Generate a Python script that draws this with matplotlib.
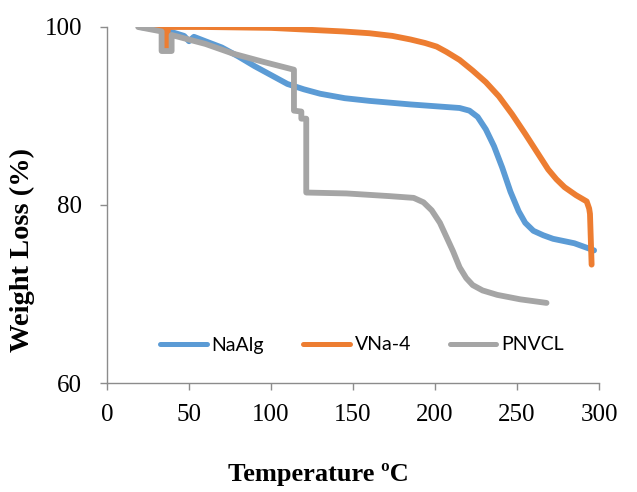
import matplotlib
matplotlib.use("Agg")
import matplotlib.pyplot as plt

# TGA curves
naalg_t = [20, 30, 40, 47, 50, 53, 60, 70, 80, 90, 100, 110, 120, 130, 145, 160, 185, 200,
           215, 221, 226, 231, 236, 241, 246, 251, 255, 260, 266, 272, 285, 297]
naalg_w = [100, 99.8, 99.4, 99.0, 98.4, 98.9, 98.4, 97.7, 96.7, 95.6, 94.6, 93.6, 93.0, 92.5,
           92.0, 91.7, 91.3, 91.1, 90.9, 90.6, 89.9, 88.5, 86.6, 84.2, 81.5, 79.3, 78.0, 77.1,
           76.6, 76.2, 75.7, 74.9]

vna4_t = [20, 35.5, 36.3, 37.2, 60, 100, 144, 160, 174, 185, 194, 201, 207, 215, 223, 231,
          239, 247, 255, 262, 269, 274, 279, 286, 292.5, 294, 294.5, 295.5]
vna4_w = [100, 100, 97.6, 100, 100, 99.9, 99.5, 99.3, 99.0, 98.6, 98.2, 97.8, 97.2, 96.3,
          95.1, 93.8, 92.2, 90.2, 88.0, 86.0, 84.0, 82.9, 82.0, 81.1, 80.4, 79.6, 79.0, 73.3]

pnvcl_t = [19, 33.3, 33.3, 39.4, 39.4, 60, 77, 95, 114, 114, 118.5, 118.5, 121.5, 121.5, 146,
           172, 187, 193, 198, 203, 207, 211, 215, 219, 223, 229, 238, 252, 268]
pnvcl_w = [100, 99.5, 97.3, 97.3, 99.1, 98.1, 97.0, 96.1, 95.2, 90.6, 90.5, 89.7, 89.7, 81.4,
           81.3, 81.0, 80.8, 80.3, 79.4, 78.0, 76.4, 74.8, 73.0, 71.8, 71.0, 70.4, 69.9,
           69.4, 69.0]

labels = ['NaAlg', 'VNa-4', 'PNVCL']
colors = ['#5B9BD5', '#ED7D31', '#A5A5A5']

fig = plt.figure(figsize=(6.37, 4.92), dpi=100)
ax = fig.add_axes([107/637, 1-383/492, 492/637, 356/492])

ax.plot(naalg_t, naalg_w, color=colors[0], lw=4.2, solid_capstyle='round', solid_joinstyle='round', label=labels[0])
ax.plot(vna4_t, vna4_w, color=colors[1], lw=4.2, solid_capstyle='round', solid_joinstyle='round', label=labels[1])
ax.plot(pnvcl_t, pnvcl_w, color=colors[2], lw=4.2, solid_capstyle='round', solid_joinstyle='round', label=labels[2])

ax.set_xlim(0, 300)
ax.set_ylim(60, 100)
ax.set_xticks([0, 50, 100, 150, 200, 250, 300])
ax.set_yticks([60, 80, 100])

for s in ['top', 'right']:
    ax.spines[s].set_visible(False)
for s in ['left', 'bottom']:
    ax.spines[s].set_color('#8c8c8c')
    ax.spines[s].set_linewidth(1.0)
ax.tick_params(axis='both', colors='#8c8c8c', length=5, width=1.0, direction='out')
ax.tick_params(axis='y', pad=13)
ax.tick_params(axis='x', pad=10)
for lab in ax.get_xticklabels() + ax.get_yticklabels():
    lab.set_fontfamily('Liberation Serif')
    lab.set_fontsize(18)
    lab.set_color('black')

leg = ax.legend(loc='center', bbox_to_anchor=((362-107)/492, (383-345)/356), ncol=3,
                frameon=False, prop={'family': 'Lato', 'size': 14},
                handlelength=2.4, handletextpad=0.25, columnspacing=2.0)
for line in leg.get_lines():
    line.set_linewidth(3.6)

fig.text(22/637, 1-250/492, 'Weight Loss (%)', rotation=90, ha='center', va='center',
         family='Liberation Serif', fontweight='bold', fontsize=20.5)
fig.text(318/637, 1-475/492, 'Temperature ºC', ha='center', va='center',
         family='Liberation Serif', fontweight='bold', fontsize=19)

fig.savefig('out.png', dpi=100)
